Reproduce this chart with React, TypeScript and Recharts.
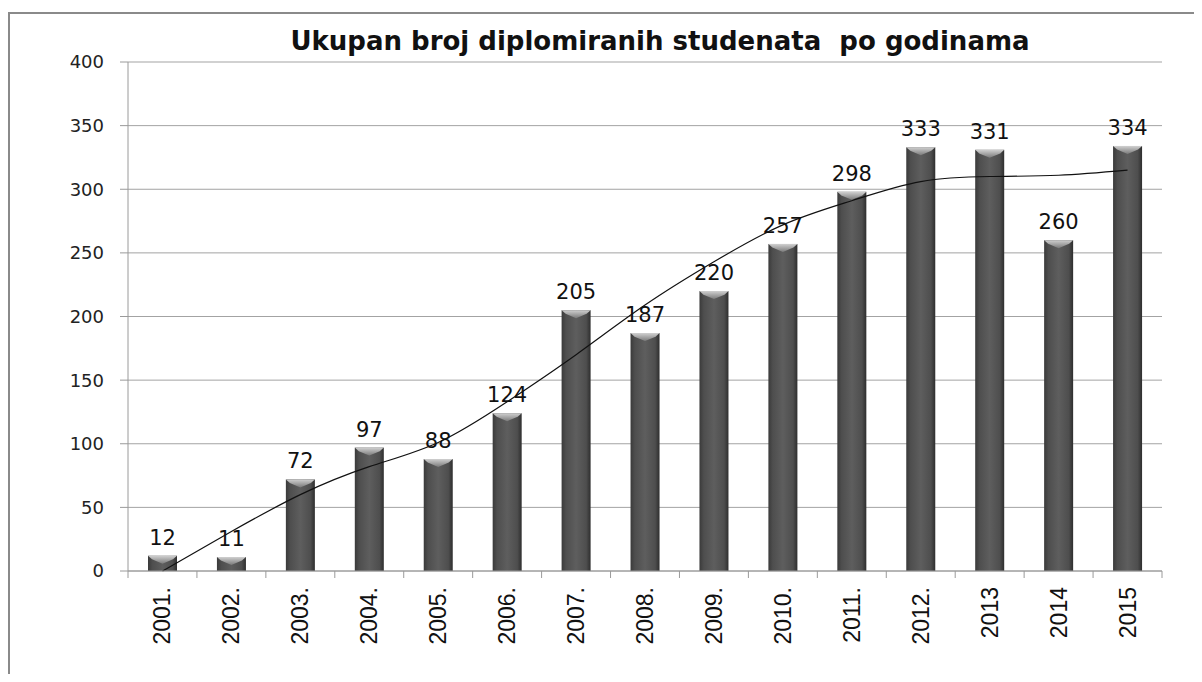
import React from 'react';
import {
  ComposedChart,
  Bar,
  Line,
  XAxis,
  YAxis,
  CartesianGrid,
  LabelList,
} from 'recharts';

const years = ['2001.', '2002.', '2003.', '2004.', '2005.', '2006.', '2007.', '2008.', '2009.', '2010.', '2011.', '2012.', '2013', '2014', '2015'];
const graduates = [12, 11, 72, 97, 88, 124, 205, 187, 220, 257, 298, 333, 331, 260, 334];
// trend line values at each year
const trend = [0, 31, 60, 82, 101, 133, 170, 209, 243, 272, 291, 306, 310, 311, 315];
const yTicks = [0, 50, 100, 150, 200, 250, 300, 350, 400];

const CHART_W = 1186;
const CHART_H = 666;
const PLOT_LEFT = 120;
const PLOT_RIGHT = 32;
const BAND = (CHART_W - PLOT_LEFT - PLOT_RIGHT) / years.length;

const chartData = years.map((year, i) => ({
  year,
  value: graduates[i],
  trend: trend[i],
}));

function BevelBar(props: any) {
  const { x, y, width, height } = props;
  if (!height || height <= 0) return null;
  const cap = Math.min(8, height);
  return (
    <g>
      <rect x={x} y={y} width={width} height={height} fill="url(#barGrad)" />
      <polygon
        points={`${x},${y} ${x + width},${y} ${x + width - 4},${y + cap * 0.45} ${x + width / 2},${y + cap} ${x + 4},${y + cap * 0.45}`}
        fill="url(#capGrad)"
      />
    </g>
  );
}

function YearTick(props: any) {
  const { x, y, payload, index } = props;
  const last = index === years.length - 1;
  return (
    <g>
      <line x1={x - BAND / 2} y1={y} x2={x - BAND / 2} y2={y + 7} stroke="#9a9a9a" />
      {last && <line x1={x + BAND / 2} y1={y} x2={x + BAND / 2} y2={y + 7} stroke="#9a9a9a" />}
      <text
        x={x}
        y={y + 16}
        transform={`rotate(-90 ${x} ${y + 16})`}
        textAnchor="end"
        dominantBaseline="central"
        fontFamily="'Liberation Sans Narrow', 'Liberation Sans', sans-serif"
        fontSize={23}
        fill="#111"
      >
        {payload.value}
      </text>
    </g>
  );
}

export default function App() {
  return (
    <div style={{ position: 'relative', width: CHART_W, height: CHART_H }}>
      <div
        style={{
          position: 'absolute',
          left: 0,
          top: 4,
          width: CHART_W - 2,
          height: CHART_H - 6,
          borderLeft: '2px solid #8a8a8a',
          borderTop: '2px solid #8a8a8a',
        }}
      />
      <div
        style={{
          position: 'absolute',
          left: 252,
          top: 20,
          width: 800,
          textAlign: 'center',
          fontFamily: "'DejaVu Sans', sans-serif",
          fontWeight: 'bold',
          fontSize: 26,
          lineHeight: '26px',
          whiteSpace: 'pre',
          color: '#111',
        }}
      >
        Ukupan broj diplomiranih studenata  po godinama
      </div>
      <div style={{ position: 'absolute', left: 0, top: 0 }}>
        <ComposedChart
          width={CHART_W}
          height={CHART_H}
          data={chartData}
          margin={{ top: 54, right: PLOT_RIGHT, bottom: 23, left: 0 }}
          barCategoryGap={0}
        >
          <defs>
            <linearGradient id="barGrad" x1="0" y1="0" x2="1" y2="0">
              <stop offset="0%" stopColor="#3a3a3a" />
              <stop offset="15%" stopColor="#4e4e4e" />
              <stop offset="50%" stopColor="#5e5e5e" />
              <stop offset="85%" stopColor="#4e4e4e" />
              <stop offset="100%" stopColor="#2e2e2e" />
            </linearGradient>
            <linearGradient id="capGrad" x1="0" y1="0" x2="0" y2="1">
              <stop offset="0%" stopColor="#d0d0d0" />
              <stop offset="100%" stopColor="#7a7a7a" />
            </linearGradient>
          </defs>
          <CartesianGrid vertical={false} stroke="#a3a3a3" />
          <XAxis
            dataKey="year"
            height={80}
            interval={0}
            tickSize={0}
            tickMargin={0}
            tickLine={false}
            axisLine={{ stroke: '#9a9a9a' }}
            tick={<YearTick />}
          />
          <YAxis
            width={PLOT_LEFT}
            domain={[0, 400]}
            ticks={yTicks}
            interval={0}
            tickSize={8}
            tickMargin={16}
            axisLine={{ stroke: '#9a9a9a' }}
            tickLine={{ stroke: '#9a9a9a' }}
            tick={{ fontFamily: "'DejaVu Sans', sans-serif", fontSize: 18, fill: '#222' }}
          />
          <Bar dataKey="value" barSize={29} shape={<BevelBar />} isAnimationActive={false}>
            <LabelList
              dataKey="value"
              position="top"
              offset={11}
              style={{ fontFamily: "'DejaVu Sans', sans-serif", fontSize: 21, fill: '#111' }}
            />
          </Bar>
          <Line
            dataKey="trend"
            type="natural"
            stroke="#111"
            strokeWidth={1.2}
            dot={false}
            activeDot={false}
            isAnimationActive={false}
          />
        </ComposedChart>
      </div>
    </div>
  );
}
